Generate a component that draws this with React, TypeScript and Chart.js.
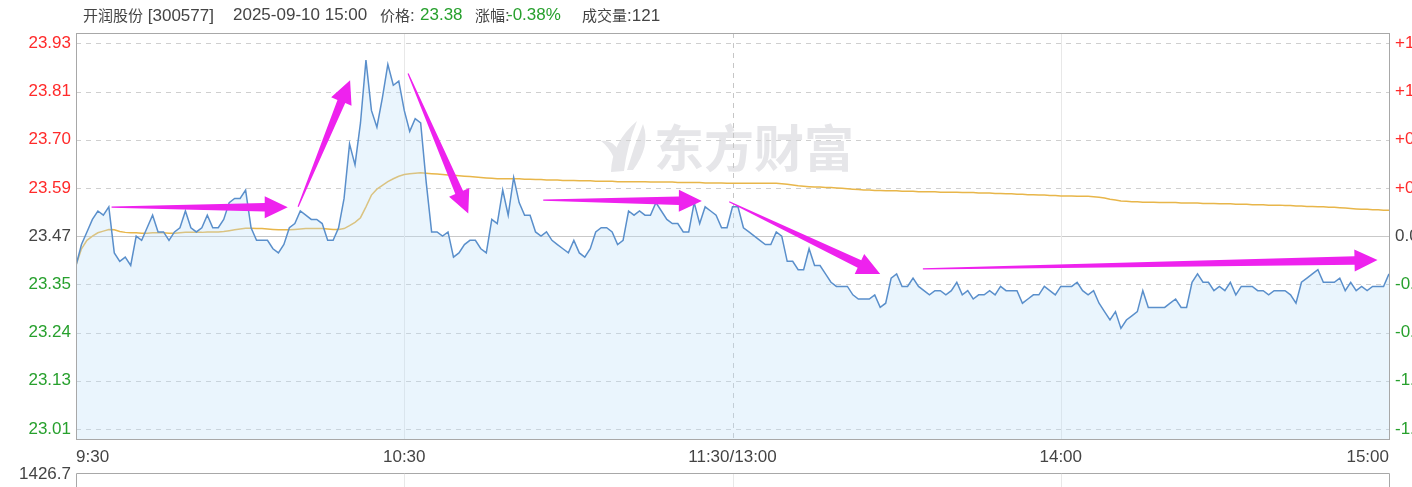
import React, { useEffect, useRef } from 'react';
import { Chart, registerables } from 'chart.js';

Chart.register(...registerables);

const FONT = '"Liberation Sans", Arial, "Noto Sans CJK SC", sans-serif';
const CJK_FONT = '"Noto Sans CJK SC", "Liberation Sans", sans-serif';

// ---- header text ----
const stockName = '开润股份';
const stockCode = '[300577]';
const timestamp = '2025-09-10 15:00';
const priceLabel = '价格';
const lastPrice = '23.38';
const changeLabel = '涨幅';
const changePct = '-0.38%';
const volumeLabel = '成交量';
const lastVolume = '121';

// ---- series (one value per minute, 9:30..11:30 then 13:01..15:00) ----
const priceSeries = [
  23.40, 23.45, 23.48, 23.51, 23.53, 23.52, 23.54, 23.43, 23.41, 23.42,
  23.40, 23.47, 23.46, 23.49, 23.52, 23.48, 23.48, 23.46, 23.48, 23.49,
  23.53, 23.49, 23.48, 23.49, 23.52, 23.49, 23.49, 23.51, 23.55, 23.56,
  23.56, 23.58, 23.49, 23.46, 23.46, 23.46, 23.44, 23.43, 23.45, 23.49,
  23.50, 23.53, 23.52, 23.51, 23.51, 23.50, 23.46, 23.46, 23.49, 23.56,
  23.69, 23.64, 23.74, 23.89, 23.77, 23.73, 23.80, 23.88, 23.83, 23.84,
  23.77, 23.72, 23.75, 23.74, 23.60, 23.48, 23.48, 23.47, 23.48, 23.42,
  23.43, 23.45, 23.46, 23.46, 23.44, 23.43, 23.51, 23.50, 23.58, 23.52,
  23.61, 23.55, 23.52, 23.52, 23.48, 23.47, 23.48, 23.46, 23.45, 23.44,
  23.43, 23.46, 23.43, 23.42, 23.44, 23.48, 23.49, 23.49, 23.48, 23.45,
  23.46, 23.53, 23.52, 23.53, 23.52, 23.52, 23.55, 23.53, 23.51, 23.50,
  23.50, 23.48, 23.48, 23.55, 23.50, 23.54, 23.53, 23.52, 23.49, 23.49,
  23.54, 23.54, 23.49, 23.48, 23.47, 23.46, 23.45, 23.45, 23.48, 23.47,
  23.41, 23.41, 23.39, 23.39, 23.44, 23.40, 23.40, 23.38, 23.36, 23.35,
  23.35, 23.35, 23.33, 23.32, 23.32, 23.32, 23.33, 23.30, 23.31, 23.37,
  23.38, 23.35, 23.35, 23.37, 23.35, 23.34, 23.33, 23.34, 23.34, 23.33,
  23.34, 23.36, 23.33, 23.34, 23.32, 23.33, 23.33, 23.34, 23.33, 23.35,
  23.34, 23.34, 23.34, 23.31, 23.32, 23.33, 23.33, 23.35, 23.34, 23.33,
  23.35, 23.35, 23.35, 23.36, 23.34, 23.33, 23.34, 23.31, 23.29, 23.27,
  23.29, 23.25, 23.27, 23.28, 23.29, 23.34, 23.30, 23.30, 23.30, 23.30,
  23.31, 23.32, 23.30, 23.30, 23.36, 23.38, 23.36, 23.36, 23.34, 23.35,
  23.34, 23.36, 23.33, 23.35, 23.35, 23.35, 23.34, 23.34, 23.33, 23.34,
  23.34, 23.34, 23.33, 23.31, 23.36, 23.37, 23.38, 23.39, 23.36, 23.36,
  23.36, 23.37, 23.34, 23.36, 23.34, 23.35, 23.34, 23.35, 23.35, 23.35,
  23.38,
];

const avgSeries = [
  23.400, 23.440, 23.460, 23.470, 23.478, 23.482, 23.486, 23.485, 23.481, 23.479,
  23.478, 23.478, 23.477, 23.477, 23.478, 23.478, 23.478, 23.477, 23.477, 23.478,
  23.479, 23.479, 23.479, 23.479, 23.480, 23.480, 23.480, 23.481, 23.483, 23.485,
  23.487, 23.489, 23.489, 23.488, 23.488, 23.487, 23.486, 23.485, 23.485, 23.485,
  23.486, 23.487, 23.488, 23.488, 23.488, 23.488, 23.487, 23.486, 23.486, 23.488,
  23.495, 23.503, 23.514, 23.540, 23.568, 23.582, 23.591, 23.600, 23.607, 23.613,
  23.617, 23.619, 23.620, 23.621, 23.620, 23.619, 23.618, 23.617, 23.616, 23.615,
  23.614, 23.613, 23.612, 23.611, 23.610, 23.609, 23.608, 23.607, 23.607, 23.607,
  23.607, 23.607, 23.606, 23.606, 23.605, 23.605, 23.604, 23.604, 23.604, 23.603,
  23.603, 23.603, 23.602, 23.602, 23.602, 23.601, 23.601, 23.601, 23.601, 23.600,
  23.600, 23.600, 23.600, 23.600, 23.600, 23.599, 23.599, 23.599, 23.599, 23.599,
  23.598, 23.598, 23.598, 23.598, 23.598, 23.597, 23.597, 23.597, 23.597, 23.596,
  23.596, 23.596, 23.596, 23.596, 23.596, 23.596, 23.596, 23.596, 23.596, 23.595,
  23.594, 23.592, 23.590, 23.589, 23.588, 23.587, 23.587, 23.586, 23.586, 23.585,
  23.584, 23.583, 23.582, 23.581, 23.580, 23.580, 23.579, 23.579, 23.578, 23.578,
  23.578, 23.577, 23.577, 23.577, 23.576, 23.576, 23.576, 23.576, 23.575, 23.575,
  23.575, 23.575, 23.574, 23.574, 23.574, 23.573, 23.573, 23.573, 23.572, 23.572,
  23.571, 23.571, 23.570, 23.570, 23.569, 23.569, 23.568, 23.568, 23.567, 23.567,
  23.566, 23.566, 23.566, 23.565, 23.565, 23.565, 23.564, 23.563, 23.561, 23.558,
  23.556, 23.554, 23.553, 23.552, 23.552, 23.551, 23.551, 23.551, 23.550, 23.550,
  23.550, 23.550, 23.549, 23.549, 23.549, 23.549, 23.548, 23.548, 23.548, 23.547,
  23.547, 23.547, 23.546, 23.546, 23.546, 23.545, 23.545, 23.545, 23.544, 23.544,
  23.544, 23.543, 23.543, 23.542, 23.542, 23.541, 23.541, 23.540, 23.540, 23.539,
  23.539, 23.538, 23.537, 23.536, 23.535, 23.534, 23.534, 23.533, 23.533, 23.532,
  23.532,
];

// ---- axes ----
const xTickPositions = [0, 60, 120, 180, 240];
const xTickLabels = ['9:30', '10:30', '11:30/13:00', '14:00', '15:00'];
const prevClose = 23.47;
const gridValues = [23.93, 23.815, 23.70, 23.585, 23.47, 23.355, 23.24, 23.125, 23.01];
const leftTickLabels = ['23.93', '23.81', '23.70', '23.59', '23.47', '23.35', '23.24', '23.13', '23.01'];
const rightTickLabels = ['+1.96%', '+1.47%', '+0.98%', '+0.49%', '0.00%', '-0.49%', '-0.98%', '-1.47%', '-1.96%'];
const volumeMaxLabel = '1426.7';
const watermarkText = '东方财富';

// ---- annotation arrows: [fromMinute, fromPrice, toMinute, toPrice] ----
const arrowSegments = [
  [6.5, 23.539, 38.7, 23.539],
  [40.6, 23.540, 50.1, 23.842],
  [60.7, 23.858, 71.7, 23.524],
  [85.4, 23.556, 114.4, 23.554],
  [119.4, 23.552, 147.0, 23.380],
  [154.8, 23.392, 237.9, 23.413],
];

const RED = '#ff2a2a';
const GREEN = '#27a02d';
const GRAY = '#444444';

const Y_MIN = 22.9861;
const Y_MAX = 23.9546;

const tickColor = (ctx: any) => (ctx.index < 4 ? RED : ctx.index === 4 ? GRAY : GREEN);

const decorPlugin = {
  id: 'decor',
  beforeDatasetsDraw(chart: any) {
    const { ctx, chartArea: a, scales } = chart;
    const x = scales.x;
    const y = scales.y;
    ctx.save();
    // watermark
    ctx.fillStyle = '#e6e6e9';
    ctx.beginPath();
    ctx.moveTo(611, 172);
    ctx.quadraticCurveTo(612, 142, 637, 121);
    ctx.quadraticCurveTo(627, 146, 624, 171);
    ctx.closePath();
    ctx.fill();
    ctx.beginPath();
    ctx.moveTo(627, 170);
    ctx.quadraticCurveTo(634, 146, 643, 124);
    ctx.quadraticCurveTo(651, 146, 633, 170);
    ctx.closePath();
    ctx.fill();
    ctx.beginPath();
    ctx.moveTo(601, 141);
    ctx.quadraticCurveTo(612, 139, 619, 151);
    ctx.lineTo(614, 158);
    ctx.quadraticCurveTo(609, 147, 601, 141);
    ctx.closePath();
    ctx.fill();
    ctx.font = 'bold 50px "Noto Sans CJK SC", sans-serif';
    ctx.textBaseline = 'middle';
    ctx.textAlign = 'left';
    ctx.fillText(watermarkText, 654, 148);

    // horizontal grid
    ctx.lineWidth = 1;
    gridValues.forEach((v) => {
      const py = Math.round(y.getPixelForValue(v)) + 0.5;
      ctx.beginPath();
      if (v === prevClose) {
        ctx.setLineDash([]);
        ctx.strokeStyle = '#c9c9c9';
      } else {
        ctx.setLineDash([5, 5]);
        ctx.strokeStyle = '#cfcfcf';
      }
      ctx.moveTo(a.left, py);
      ctx.lineTo(a.right, py);
      ctx.stroke();
    });
    // vertical grid
    xTickPositions.slice(1, -1).forEach((v) => {
      const px = Math.round(x.getPixelForValue(v)) + 0.5;
      ctx.beginPath();
      if (v === 120) {
        ctx.setLineDash([5, 5]);
        ctx.strokeStyle = '#c6c6c6';
      } else {
        ctx.setLineDash([]);
        ctx.strokeStyle = '#e8e8e8';
      }
      ctx.moveTo(px, a.top);
      ctx.lineTo(px, a.bottom);
      ctx.stroke();
    });
    ctx.restore();
  },
  afterDatasetsDraw(chart: any) {
    const { ctx, chartArea: a, scales } = chart;
    const x = scales.x;
    const y = scales.y;
    ctx.save();
    // arrows
    ctx.fillStyle = '#ee22ee';
    arrowSegments.forEach(([m0, p0, m1, p1]) => {
      const x0 = x.getPixelForValue(m0);
      const y0 = y.getPixelForValue(p0);
      const x1 = x.getPixelForValue(m1);
      const y1 = y.getPixelForValue(p1);
      const dx = x1 - x0;
      const dy = y1 - y0;
      const len = Math.hypot(dx, dy);
      const ux = dx / len;
      const uy = dy / len;
      const nx = -uy;
      const ny = ux;
      const headLen = 23;
      const headHalf = 11;
      const tailStart = 0.6;
      const tailEnd = 4.2;
      const bx = x1 - ux * headLen;
      const by = y1 - uy * headLen;
      ctx.beginPath();
      ctx.moveTo(x0 + nx * tailStart, y0 + ny * tailStart);
      ctx.lineTo(bx + nx * tailEnd, by + ny * tailEnd);
      ctx.lineTo(bx + nx * headHalf, by + ny * headHalf);
      ctx.lineTo(x1, y1);
      ctx.lineTo(bx - nx * headHalf, by - ny * headHalf);
      ctx.lineTo(bx - nx * tailEnd, by - ny * tailEnd);
      ctx.lineTo(x0 - nx * tailStart, y0 - ny * tailStart);
      ctx.closePath();
      ctx.fill();
    });

    // frame
    ctx.setLineDash([]);
    ctx.lineWidth = 1;
    ctx.strokeStyle = '#a8a8a8';
    ctx.strokeRect(Math.round(a.left) + 0.5, Math.round(a.top) + 0.5, Math.round(a.right - a.left), Math.round(a.bottom - a.top));

    // volume panel (top part visible)
    const vTop = 473.5;
    ctx.strokeStyle = '#e8e8e8';
    xTickPositions.slice(1, -1).forEach((v) => {
      const px = Math.round(x.getPixelForValue(v)) + 0.5;
      ctx.beginPath();
      ctx.moveTo(px, vTop);
      ctx.lineTo(px, chart.height);
      ctx.stroke();
    });
    ctx.strokeStyle = '#a8a8a8';
    ctx.beginPath();
    ctx.moveTo(Math.round(a.left) + 0.5, chart.height + 2);
    ctx.lineTo(Math.round(a.left) + 0.5, vTop);
    ctx.lineTo(Math.round(a.right) + 0.5, vTop);
    ctx.lineTo(Math.round(a.right) + 0.5, chart.height + 2);
    ctx.stroke();
    ctx.fillStyle = GRAY;
    ctx.font = '17px ' + FONT;
    ctx.textAlign = 'right';
    ctx.textBaseline = 'middle';
    ctx.fillText(volumeMaxLabel, Math.round(a.left) - 5, 474);
    ctx.restore();
  },
};

function IntradayChart() {
  const canvasRef = useRef<HTMLCanvasElement | null>(null);

  useEffect(() => {
    if (!canvasRef.current) return;
    const chart = new Chart(canvasRef.current, {
      type: 'line',
      data: {
        datasets: [
          {
            label: '价格',
            data: priceSeries.map((v, i) => ({ x: i, y: v })),
            borderColor: '#5a8fcb',
            borderWidth: 1.5,
            backgroundColor: 'rgba(190,225,250,0.32)',
            fill: 'start',
            pointRadius: 0,
            tension: 0,
          },
          {
            label: '均价',
            data: avgSeries.map((v, i) => ({ x: i, y: v })),
            borderColor: '#e8b64a',
            borderWidth: 1.5,
            fill: false,
            pointRadius: 0,
            tension: 0,
          },
        ],
      },
      options: {
        animation: false,
        responsive: false,
        maintainAspectRatio: false,
        layout: { padding: { top: 33, left: 0, right: 0, bottom: 0 } },
        plugins: {
          legend: { display: false },
          tooltip: { enabled: false },
          title: { display: false },
        },
        events: [],
        scales: {
          x: {
            type: 'linear',
            min: 0,
            max: 240,
            afterBuildTicks: (scale: any) => {
              scale.ticks = xTickPositions.map((v) => ({ value: v }));
            },
            afterFit: (scale: any) => {
              scale.height = 48;
            },
            grid: { display: false, drawTicks: false },
            border: { display: false },
            ticks: {
              autoSkip: false,
              maxRotation: 0,
              minRotation: 0,
              align: 'inner',
              padding: 8,
              color: GRAY,
              font: { size: 17, family: FONT },
              callback: (_v: any, i: number) => xTickLabels[i],
            },
          },
          y: {
            type: 'linear',
            position: 'left',
            min: Y_MIN,
            max: Y_MAX,
            afterBuildTicks: (scale: any) => {
              scale.ticks = gridValues.map((v) => ({ value: v }));
            },
            afterFit: (scale: any) => {
              scale.width = 76;
            },
            grid: { display: false, drawTicks: false },
            border: { display: false },
            ticks: {
              autoSkip: false,
              padding: 5,
              color: tickColor,
              font: { size: 17, family: FONT },
              callback: (_v: any, i: number) => leftTickLabels[i],
            },
          },
          y1: {
            type: 'linear',
            position: 'right',
            min: Y_MIN,
            max: Y_MAX,
            afterBuildTicks: (scale: any) => {
              scale.ticks = gridValues.map((v) => ({ value: v }));
            },
            afterFit: (scale: any) => {
              scale.width = 23;
            },
            grid: { display: false, drawTicks: false },
            border: { display: false },
            ticks: {
              autoSkip: false,
              padding: 6,
              color: tickColor,
              font: { size: 17, family: FONT },
              callback: (_v: any, i: number) => rightTickLabels[i],
            },
          },
        },
      },
      plugins: [decorPlugin],
    } as any);
    return () => chart.destroy();
  }, []);

  return <canvas ref={canvasRef} width={1412} height={487} style={{ display: 'block', width: 1412, height: 487 }} />;
}

const headerBase: React.CSSProperties = {
  position: 'absolute',
  top: 4,
  lineHeight: '22px',
  fontSize: 17,
  fontFamily: FONT,
  color: GRAY,
  whiteSpace: 'pre',
};
const cjk: React.CSSProperties = { fontFamily: CJK_FONT, fontSize: 15 };

export default function App() {
  return (
    <div style={{ position: 'relative', width: 1412, height: 487, overflow: 'hidden', background: '#fff' }}>
      <style>{'html,body{margin:0;padding:0;background:#fff;}'}</style>
      <IntradayChart />
      <span style={{ ...headerBase, left: 83 }}>
        <span style={cjk}>{stockName}</span> {stockCode}
      </span>
      <span style={{ ...headerBase, left: 233 }}>{timestamp}</span>
      <span style={{ ...headerBase, left: 380 }}>
        <span style={cjk}>{priceLabel}</span>:
      </span>
      <span style={{ ...headerBase, left: 420, color: GREEN }}>{lastPrice}</span>
      <span style={{ ...headerBase, left: 475 }}>
        <span style={cjk}>{changeLabel}</span>:
      </span>
      <span style={{ ...headerBase, left: 507, color: GREEN }}>{changePct}</span>
      <span style={{ ...headerBase, left: 582 }}>
        <span style={cjk}>{volumeLabel}</span>:{lastVolume}
      </span>
    </div>
  );
}
